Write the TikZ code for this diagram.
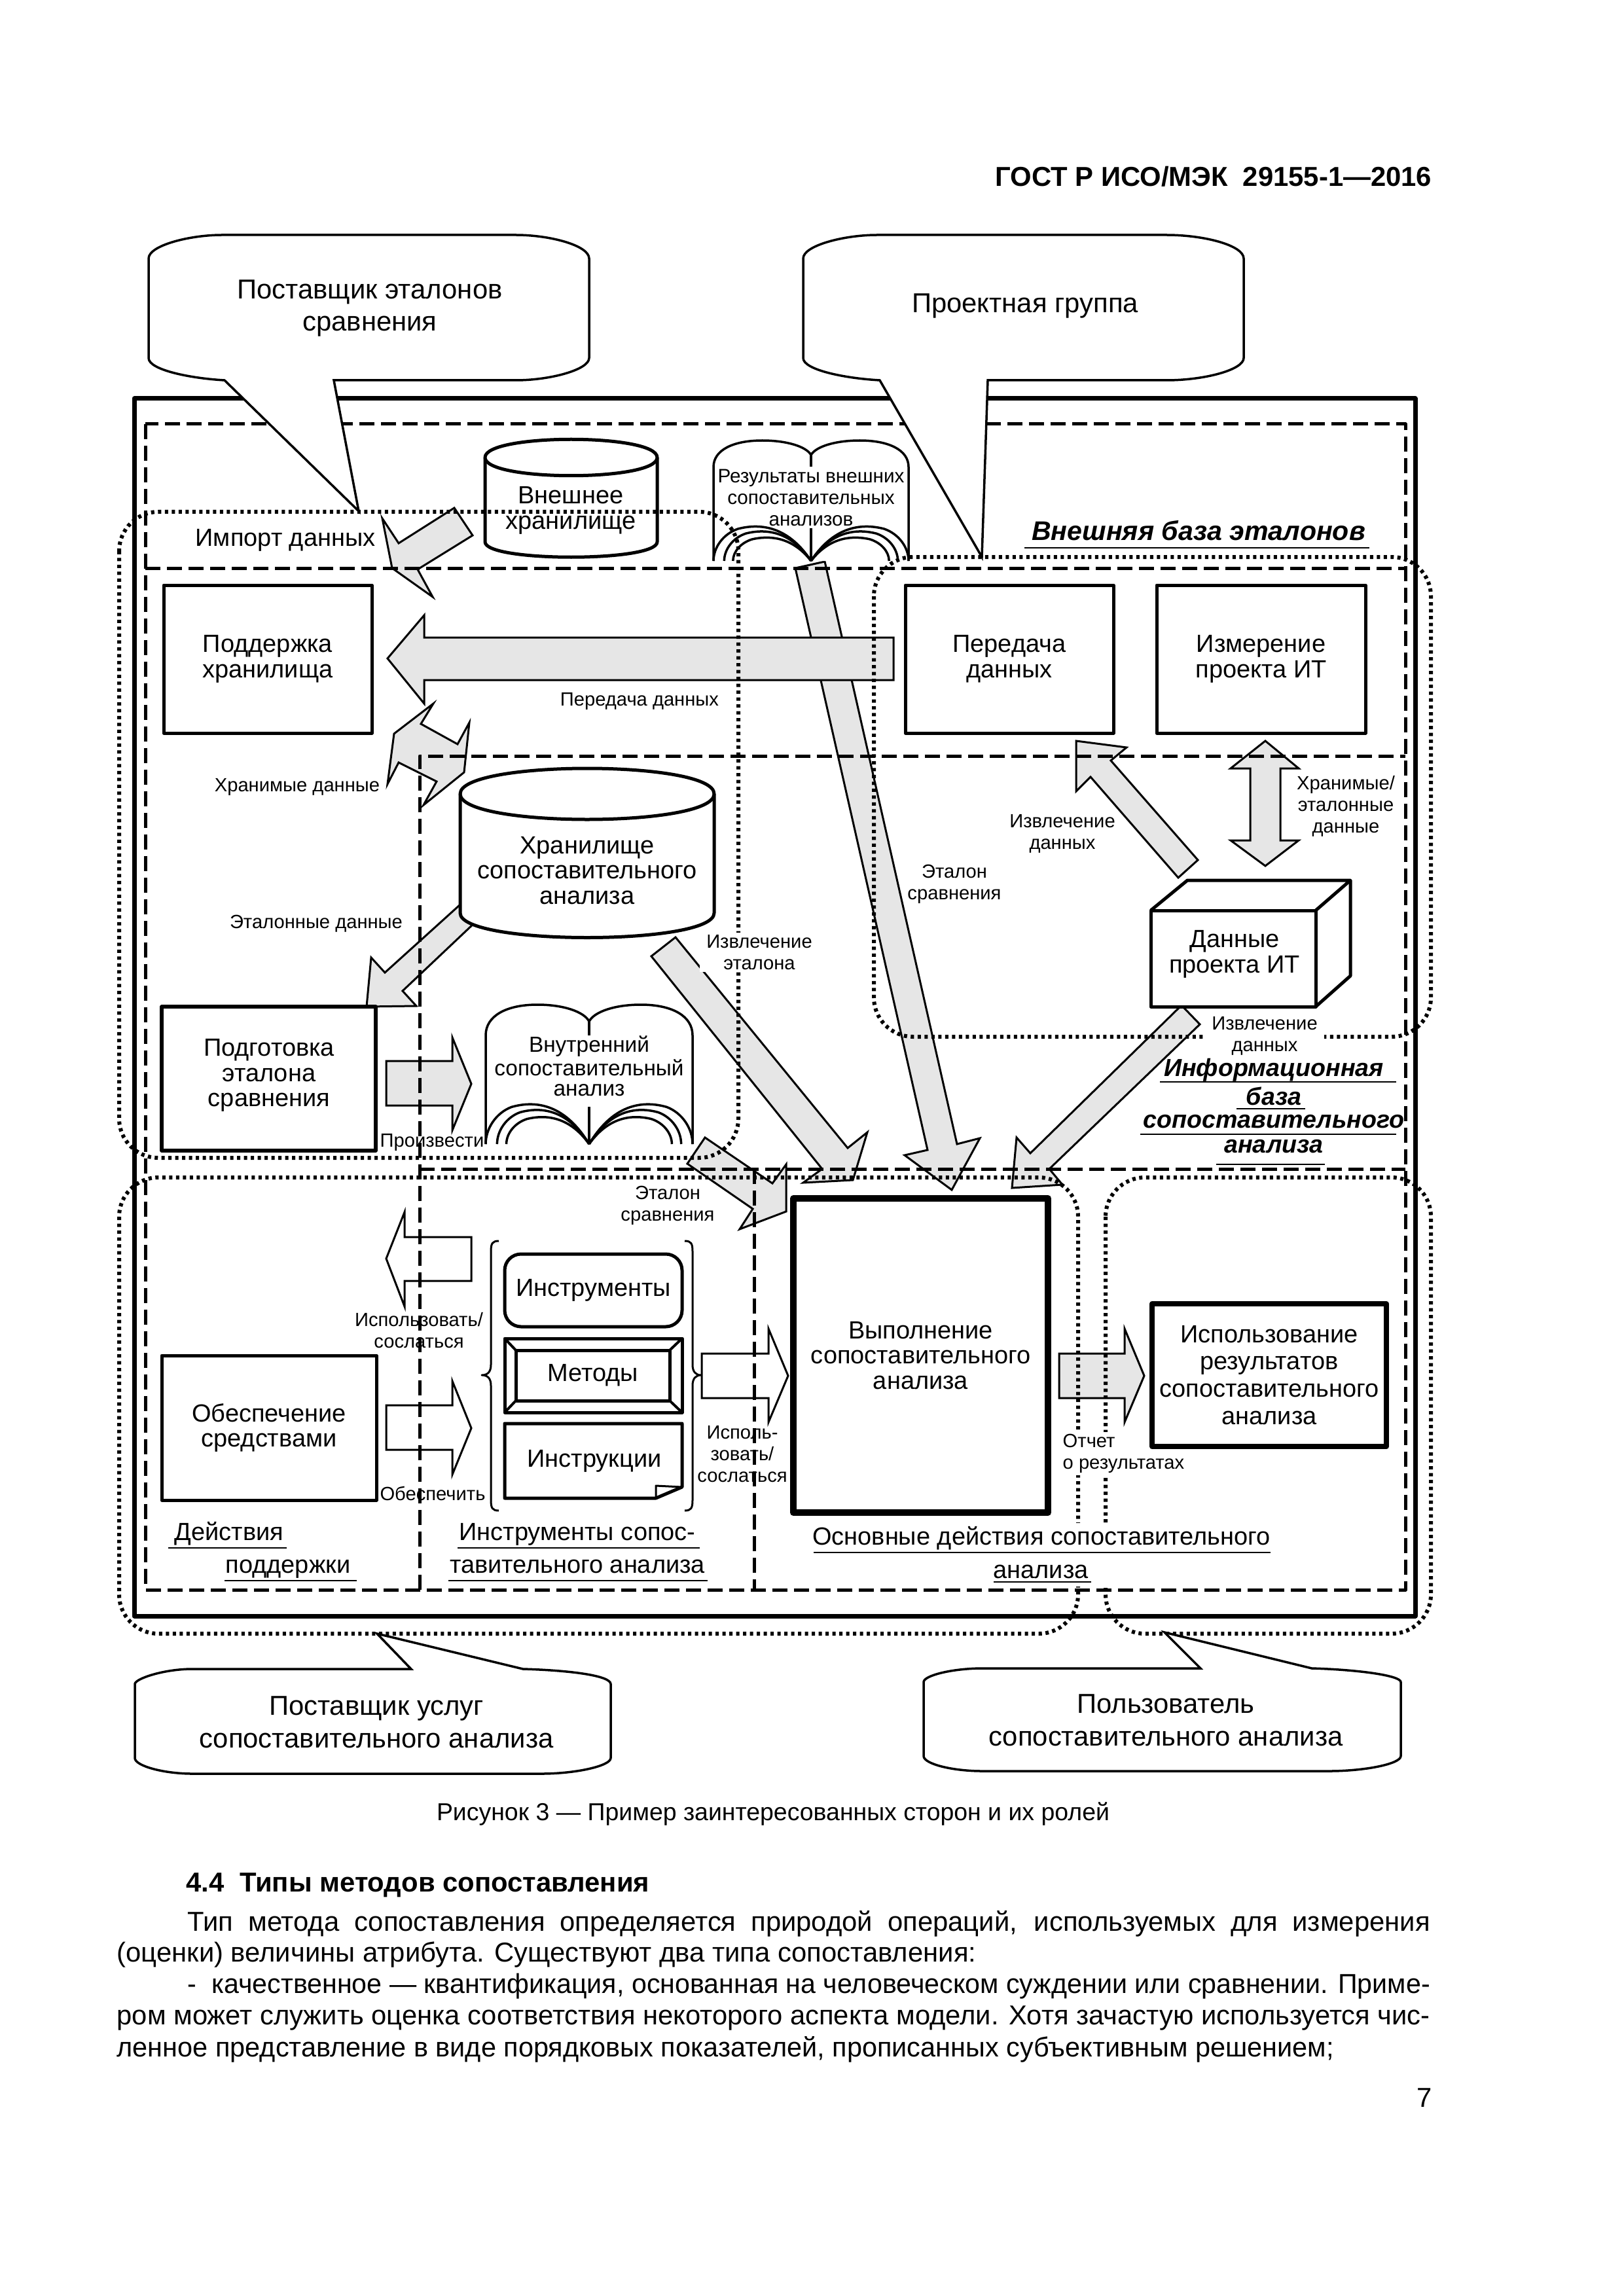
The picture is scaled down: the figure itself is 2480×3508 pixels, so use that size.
\documentclass[tikz,border=0pt]{standalone}
\usepackage{fontspec}
\usepackage{graphicx}
\setmainfont{Liberation Sans}
\definecolor{arrowgray}{HTML}{E6E6E6}
\newcommand{\fbig}{\fontsize{11.9}{14.2}\selectfont}
\newcommand{\fmid}{\fontsize{10.8}{11}\selectfont}
\newcommand{\fsmall}{\fontsize{8.3}{9.4}\selectfont}
\newcommand{\fbody}{\fontsize{11.9}{13.6}\selectfont}
\tikzset{
	frameline/.style={line width=0.7mm},
	dashline/.style={line width=0.5mm,dash pattern=on 2.3mm off 1mm},
	dotline/.style={line width=0.6mm,dash pattern=on 0.5mm off 0.55mm,rounded corners=6mm},
	callout/.style={draw,line width=0.35mm,fill=white,line join=miter},
	grayarrow/.style={draw,line width=0.3mm,fill=arrowgray,line join=miter},
	whitearrow/.style={draw,line width=0.3mm,line join=miter},
	procbox/.style={draw,line width=0.5mm,fill=white,align=center,inner sep=0pt,font=\fmid},
	store/.style={line width=0.5mm,fill=white},
	ulinenote/.style={line width=0.28mm},
	bigtxt/.style={align=center,inner sep=0pt,font=\fbig},
	midtxt/.style={align=center,inner sep=0pt,font=\fmid},
	smalltxt/.style={align=center,inner sep=0pt,font=\fsmall},
	coverlbl/.style={smalltxt,fill=white,inner xsep=1mm,inner ysep=0.3mm},
	titletxt/.style={align=center,inner sep=0pt,font=\fontsize{11.7}{14}\selectfont\bfseries\itshape},
	bodyline/.style={anchor=base west,inner sep=0pt,font=\fbody},
	openbook/.pic={
		\draw[line width=0.35mm,fill=white] (-100,0) -- (-100,-78) .. controls (-100,-92) and (-80,-100) .. (-50,-100)
		.. controls (-25,-100) and (-5,-95) .. (0,-88) .. controls (5,-95) and (25,-100) .. (50,-100)
		.. controls (80,-100) and (100,-92) .. (100,-78) -- (100,0);
		\draw[line width=0.35mm] (0,-78)--(0,-88);
		\draw[line width=0.35mm] (0,0)--(0,-27);
		\foreach \xe/\yt in {100/-28,89/-24,80/-19}{
			\draw[line width=0.35mm] (0,0) .. controls (-\xe*0.25,\yt*1.1) and (-\xe*0.55,\yt*1.1) .. (-\xe*0.75,\yt*0.95) .. controls (-\xe*0.9,\yt*0.8) and (-\xe,\yt*0.4) .. (-\xe,0);
			\draw[line width=0.35mm] (0,0) .. controls (\xe*0.25,\yt*1.1) and (\xe*0.55,\yt*1.1) .. (\xe*0.75,\yt*0.95) .. controls (\xe*0.9,\yt*0.8) and (\xe,\yt*0.4) .. (\xe,0);
		}
	}
}
\begin{document}
\begin{tikzpicture}[x=0.1mm,y=-0.1mm,line join=round]
	\useasboundingbox (0,0) rectangle (2480,3508);
	\node[anchor=base east,inner sep=0pt,font=\fontsize{11.9}{14}\selectfont\bfseries] (gost) at (2188,285) {ГОСТ Р ИСО/МЭК\ \ 29155-1—2016};
	%\draw[color=gray!50] (0,0) grid (2480,3508);
	\draw[frameline] (205,609) rectangle (2162,2469);

	% gray arrows
	\path[grayarrow] (1215,868)--(1260,858)--(1462,1748)--(1497,1739)--(1454,1818)--(1382,1765)--(1417,1757)--cycle;
	\path[grayarrow] (1365,974)--(648,974)--(648,940)--(592,1006)--(648,1075)--(648,1039)--(1365,1039)--cycle;
	\path[grayarrow] (694,776)--(722,818)--(638,870)--(661,912)--(599,868)--(584,792)--(609,830)--cycle;
	\path[grayarrow] (662,1075)--(602,1121)--(592,1198)--(609,1165)--(667,1194)--(647,1230)--(709,1180)--(717,1104)--(699,1137)--(643,1106)--cycle;
	\path[grayarrow] (702,1383)--(725,1410)--(615,1514)--(636,1537)--(560,1538)--(567,1463)--(588,1486)--cycle;
	\path[grayarrow] (590,1621)--(691,1621)--(691,1585)--(720,1656)--(691,1727)--(691,1689)--(590,1689)--cycle;
	\path[grayarrow] (1077,1738)--(1050,1778)--(1150,1847)--(1130,1878)--(1201,1851)--(1201,1779)--(1180,1808)--cycle;
	\path[grayarrow] (1032,1432)--(1295,1754)--(1325,1730)--(1303,1803)--(1227,1807)--(1256,1786)--(995,1461)--cycle;
	\path[grayarrow] (1830,1314)--(1800,1341)--(1666,1187)--(1644,1209)--(1644,1132)--(1721,1142)--(1697,1162)--cycle;
	\path[grayarrow] (1933,1132)--(1984,1174)--(1956,1174)--(1956,1284)--(1984,1284)--(1933,1323)--(1880,1284)--(1910,1284)--(1910,1174)--(1880,1174)--cycle;
	\path[grayarrow] (1805,1536)--(1833,1565)--(1603,1786)--(1623,1810)--(1546,1815)--(1553,1738)--(1574,1762)--cycle;
	\path[grayarrow] (1618,2068)--(1718,2068)--(1718,2030)--(1748,2102)--(1718,2173)--(1718,2136)--(1618,2136)--cycle;

	% white arrows
	\draw[whitearrow] (720,1890)--(618,1890)--(618,1852)--(590,1923)--(618,1996)--(618,1957)--(720,1957)--cycle;
	\draw[whitearrow] (590,2147)--(691,2147)--(691,2110)--(720,2182)--(691,2253)--(691,2215)--(590,2215)--cycle;
	\draw[whitearrow] (1072,2068)--(1174,2068)--(1174,2030)--(1204,2102)--(1174,2173)--(1174,2136)--(1072,2136)--cycle;

	% dashed zones
	\draw[dashline] (222,648) rectangle (2147,2429);
	\draw[dashline] (222,868)--(2147,868);
	\draw[dashline] (641,2429)--(641,1155)--(2147,1155);
	\draw[dashline] (641,1786)--(2147,1786);
	\draw[dashline] (1152,1786)--(1152,2429);

	% stores and books
	\draw[store] (741,699) .. controls (741,662) and (1004,662) .. (1004,699) -- (1004,828) .. controls (1004,859) and (741,859) .. (741,828) -- cycle;
	\draw[store] (741,699) .. controls (741,736) and (1004,736) .. (1004,699);
	\draw[store] (703,1213) .. controls (703,1161) and (1091,1161) .. (1091,1213) -- (1091,1395) .. controls (1091,1445) and (703,1445) .. (703,1395) -- cycle;
	\draw[store] (703,1213) .. controls (703,1265) and (1091,1265) .. (1091,1213);
	\pic (bookext) [shift={(1239,857)},xscale=1.49,yscale=1.84] {openbook};
	\pic (bookint) [shift={(900,1748)},xscale=1.58,yscale=2.13] {openbook};

	% roles
	\draw[dotline] (182,782) rectangle (1128,1769);
	\draw[dotline] (1335,851) rectangle (2186,1584);
	\draw[dotline] (182,1799) rectangle (1647,2496);
	\draw[dotline] (1689,1799) rectangle (2186,2496);
	\fill[white] (1632,2327) rectangle (1704,2424);
	\node[coverlbl] (lblextract) at (1160,1455) {Извлечение\\эталона};
	\node[coverlbl] (lbldatalow) at (1932,1583) {Извлечение\\данных};
	\node[coverlbl,align=left,anchor=west,inner xsep=0pt] (lblreport) at (1623,2221) {Отчет\\о результатах};

	\draw[callout] (227,395) .. controls (227,375) and (290,359) .. (339,359) -- (788,359) .. controls (840,359) and (900,375) .. (900,395) -- (900,547) .. controls (900,565) and (840,581) .. (788,581) -- (510,581) -- (548,781) -- (343,581) .. controls (290,578) and (227,565) .. (227,547) -- cycle;
	\draw[callout] (1227,395) .. controls (1227,375) and (1290,359) .. (1340,359) -- (1782,359) .. controls (1840,359) and (1900,375) .. (1900,395) -- (1900,547) .. controls (1900,565) and (1840,581) .. (1782,581) -- (1509,581) -- (1500,851) -- (1344,581) .. controls (1290,578) and (1227,565) .. (1227,547) -- cycle;
	\draw[callout] (206,2573) .. controls (206,2565) and (250,2550) .. (294,2550) -- (628,2550) -- (576,2496) -- (799,2550) .. controls (870,2552) and (933,2560) .. (933,2573) -- (933,2686) .. controls (933,2698) and (880,2710) .. (827,2710) -- (294,2710) .. controls (250,2710) and (206,2698) .. (206,2686) -- cycle;
	\draw[callout] (1411,2570) .. controls (1411,2560) and (1455,2549) .. (1501,2549) -- (1834,2549) -- (1779,2494) -- (2004,2549) .. controls (2075,2551) and (2140,2560) .. (2140,2570) -- (2140,2683) .. controls (2140,2695) and (2085,2706) .. (2030,2706) -- (1501,2706) .. controls (1455,2706) and (1411,2695) .. (1411,2683) -- cycle;

	% activities
	\node[procbox,minimum width=31.8mm,minimum height=22.6mm] (keep) at (409,1007) {Поддержка\\хранилища};
	\node[procbox,minimum width=31.8mm,minimum height=22.6mm] (transfer) at (1542,1007) {Передача\\данных};
	\node[procbox,minimum width=31.9mm,minimum height=22.6mm] (measure) at (1926.5,1007) {Измерение\\проекта ИТ};
	\node[procbox,line width=0.55mm,minimum width=32.7mm,minimum height=22mm] (prepare) at (410.5,1648) {};
	\node[midtxt] (preparetxt) at (411,1643) {Подготовка\\эталона\\сравнения};
	\node[procbox,minimum width=32.8mm,minimum height=22.1mm] (supply) at (411,2181.5) {Обеспечение\\средствами};
	\node[procbox,line width=1mm,minimum width=38.9mm,minimum height=48mm] (perform) at (1406.5,2071) {Выполнение\\сопоставительного\\анализа};
	\node[procbox,line width=0.8mm,minimum width=35.8mm,minimum height=21.8mm,font=\fontsize{10.8}{11.9}\selectfont] (use) at (1939,2101) {Использование\\результатов\\сопоставительного\\анализа};

	% data box
	\draw[line width=0.5mm,fill=white] (1758,1391) rectangle (2010,1538);
	\draw[line width=0.5mm] (1758,1391)--(1814,1345)--(2063,1345)--(2010,1391);
	\draw[line width=0.5mm] (2063,1345)--(2063,1491)--(2010,1538);

	% tools
	\node[procbox,rounded corners=2.5mm,minimum width=27.1mm,minimum height=11.1mm] (tools) at (906.5,1971.5) {Инструменты};
	\node[procbox,minimum width=27.1mm,minimum height=11.3mm] (methodsout) at (906.5,2101.5) {};
	\node[procbox,minimum width=23.5mm,minimum height=7.7mm] (methods) at (905.5,2101.5) {Методы};
	\draw[line width=0.4mm] (771,2045)--(788,2063) (1042,2045)--(1023,2063) (771,2158)--(788,2140) (1042,2158)--(1023,2140);
	\draw[line width=0.5mm,fill=white] (771,2175)--(1042,2175)--(1042,2272)--(1002,2289)--(771,2289)--cycle;
	\draw[line width=0.3mm] (1002,2289)--(1002,2270)--(1042,2272);
	\draw[line width=0.3mm] (762,1896) .. controls (752,1896) and (750,1900) .. (750,1912) -- (750,2085) .. controls (750,2096) and (745,2101) .. (736,2101) .. controls (745,2101) and (750,2106) .. (750,2117) -- (750,2292) .. controls (750,2304) and (752,2308) .. (762,2308);
	\draw[line width=0.3mm] (1046,1896) .. controls (1056,1896) and (1058,1900) .. (1058,1912) -- (1058,2085) .. controls (1058,2096) and (1063,2101) .. (1071,2101) .. controls (1063,2101) and (1058,2106) .. (1058,2117) -- (1058,2292) .. controls (1058,2304) and (1056,2308) .. (1046,2308);

	% labels
	\node[bigtxt] (supplier) at (565,471) {Поставщик эталонов\\сравнения};
	\node[bigtxt] (team) at (1566,467) {Проектная группа};
	\node[bigtxt] (provider) at (575,2631) {Поставщик услуг\\сопоставительного анализа};
	\node[bigtxt] (user) at (1781,2628) {Пользователь\\сопоставительного анализа};
	\node[midtxt] (extstore) at (872,780) {Внешнее\\хранилище};
	\node[midtxt] (intstore) at (897,1330) {Хранилище\\сопоставительного\\анализа};
	\node[smalltxt,font=\fontsize{8.45}{9.4}\selectfont] (extbook) at (1239,760) {Результаты внешних\\сопоставительных\\анализов};
	\node[smalltxt,font=\fontsize{9.5}{8.9}\selectfont] (intbook) at (900,1629) {Внутренний\\сопоставительный\\анализ};
	\node[midtxt] (itdata) at (1886,1458) {Данные\\проекта ИТ};
	\node[midtxt] (import) at (436,825) {Импорт данных};
	\node[smalltxt] (lbltransfer) at (977,1071) {Передача данных};
	\node[smalltxt] (lblkept) at (454,1202) {Хранимые данные};
	\node[smalltxt] (lblref) at (483,1411) {Эталонные данные};
	\node[smalltxt] (lblbench) at (1458,1351) {Эталон\\сравнения};
	\node[smalltxt] (lbldata) at (1623,1274) {Извлечение\\данных};
	\node[smalltxt] (lblkeptref) at (2056,1232) {Хранимые/\\эталонные\\данные};
	\node[smalltxt] (lblmake) at (660,1745) {Произвести};
	\node[smalltxt] (lblbenchlow) at (1020,1842) {Эталон\\сравнения};
	\node[smalltxt] (lbluse) at (640,2033) {Использовать/\\сослаться};
	\node[smalltxt] (lblsupply) at (661,2282) {Обеспечить};
	\node[smalltxt] (lbluseright) at (1134,2222) {Исполь-\\зовать/\\сослаться};
	\node[midtxt] (tooltxt) at (908,2232) {Инструкции};

	% zone titles
	\node[titletxt] (extbase) at (1831,811) {Внешняя база эталонов};
	\node[titletxt,font=\fontsize{10.7}{11}\selectfont\bfseries\itshape] (infbase) at (1946,1690) {Информационная\\[1.4pt]база\\[-1.1pt]сопоставительного\\анализа};
	\node[midtxt,anchor=base west] (zsup) at (266,2353) {Действия};
	\node[midtxt,anchor=base west] (zsupb) at (344,2403) {поддержки};
	\node[midtxt,anchor=base] (ztool) at (882,2353) {Инструменты сопос-};
	\node[midtxt,anchor=base] (ztoolb) at (882,2403) {тавительного анализа};
	\node[midtxt,anchor=base] (zmain) at (1591,2360) {Основные действия сопоставительного};
	\node[midtxt,anchor=base] (zmainb) at (1590,2411) {анализа};
	\foreach \xa/\xb/\yy in {1565/2092/837,1772/2133/1653,1889/1994/1694,1742/2133/1733,1858/2024/1779,257/438/2365,343/545/2415,699/1069/2365,685/1081/2415,1243/1941/2372,1518/1667/2417}{
		\draw[ulinenote] (\xa,\yy)--(\xb,\yy);
	}

	% caption and text below
	\node[inner sep=0pt,anchor=base,font=\fontsize{10.65}{12}\selectfont] (caption) at (1181,2781) {Рисунок 3 — Пример заинтересованных сторон и их ролей};
	\node[bodyline,font=\fbody\bfseries] (sect) at (284,2890) {4.4\ \ Типы методов сопоставления};
	\node[bodyline] (par1) at (286,2950) {\makebox[189.8mm][s]{Тип метода сопоставления определяется природой операций, используемых для измерения}};
	\node[bodyline] (par2) at (178,2997) {(оценки) величины атрибута. Существуют два типа сопоставления:};
	\node[bodyline] (par3) at (286,3045) {\resizebox{189.8mm}{\height}{-\ \ качественное — квантификация, основанная на человеческом суждении или сравнении. Приме-}};
	\node[bodyline] (par4) at (178,3093) {\resizebox{200.6mm}{\height}{ром может служить оценка соответствия некоторого аспекта модели. Хотя зачастую используется чис-}};
	\node[bodyline] (par5) at (178,3142) {\resizebox{185.9mm}{\height}{ленное представление в виде порядковых показателей, прописанных субъективным решением;}};
	\node[anchor=base east,inner sep=0pt,font=\fbody] (pagenum) at (2188,3219) {7};
\end{tikzpicture}
\end{document}
